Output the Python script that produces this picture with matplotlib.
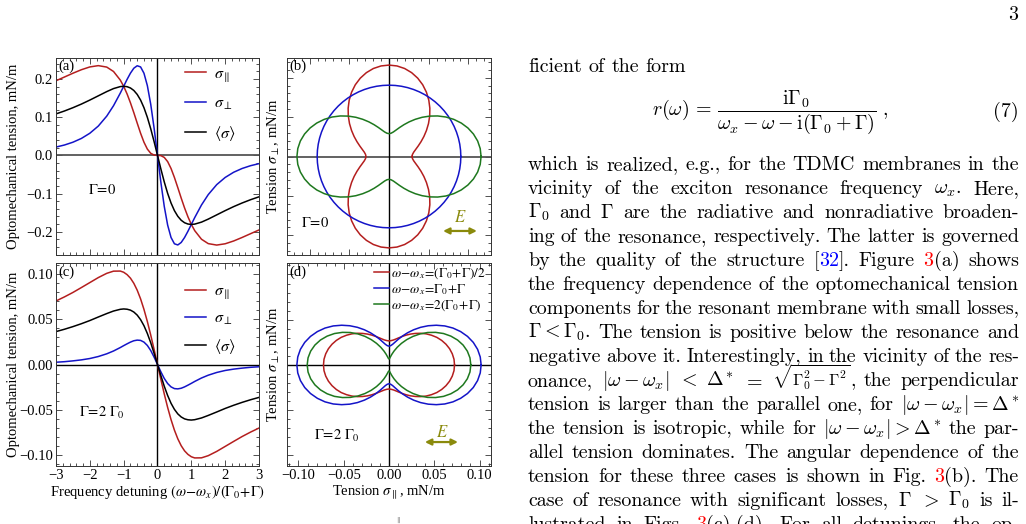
import re

import numpy as np
import matplotlib
matplotlib.use('Agg')
import matplotlib.pyplot as plt
from matplotlib.ticker import MultipleLocator

plt.rcParams['font.family'] = ['Liberation Serif', 'DejaVu Serif']
plt.rcParams['mathtext.fontset'] = 'stix'

# ---- data ----
detuning = [-3.0, -2.75, -2.5, -2.25, -2.0, -1.75, -1.5, -1.3, -1.1, -1.0, -0.9, -0.8, -0.7,
            -0.6, -0.5, -0.4, -0.3, -0.2, -0.1, 0.0, 0.1, 0.2, 0.3, 0.4, 0.5, 0.6, 0.7, 0.8,
            0.9, 1.0, 1.1, 1.3, 1.5, 1.75, 2.0, 2.25, 2.5, 2.75, 3.0]

# Gamma = 0
par_a = [0.1954, 0.2052, 0.2151, 0.2243, 0.2316, 0.2350, 0.2312, 0.2197, 0.1972, 0.1809, 0.1610,
         0.1377, 0.1118, 0.0845, 0.0579, 0.0344, 0.0164, 0.0054, 0.0007, 0.0,
         -0.0007, -0.0054, -0.0164, -0.0344, -0.0579, -0.0845, -0.1118, -0.1377, -0.1610,
         -0.1809, -0.1972, -0.2197, -0.2312, -0.2350, -0.2316, -0.2243, -0.2151, -0.2052, -0.1954]
perp_a = [0.0217, 0.0271, 0.0344, 0.0443, 0.0579, 0.0767, 0.1028, 0.1300, 0.1630, 0.1809, 0.1988,
          0.2152, 0.2282, 0.2347, 0.2316, 0.2151, 0.1827, 0.1338, 0.0709, 0.0,
          -0.0709, -0.1338, -0.1827, -0.2151, -0.2316, -0.2347, -0.2282, -0.2152, -0.1988,
          -0.1809, -0.1630, -0.1300, -0.1028, -0.0767, -0.0579, -0.0443, -0.0344, -0.0271, -0.0217]
mean_a = [0.1086, 0.1162, 0.1248, 0.1343, 0.1448, 0.1559, 0.1670, 0.1749, 0.1801, 0.1809, 0.1799,
          0.1765, 0.1700, 0.1596, 0.1448, 0.1248, 0.0996, 0.0696, 0.0358, 0.0,
          -0.0358, -0.0696, -0.0996, -0.1248, -0.1448, -0.1596, -0.1700, -0.1765, -0.1799,
          -0.1809, -0.1801, -0.1749, -0.1670, -0.1559, -0.1448, -0.1343, -0.1248, -0.1162, -0.1086]

# Gamma = 2 Gamma_0
par_c = [0.0701, 0.0746, 0.0795, 0.0849, 0.0904, 0.0959, 0.1006, 0.1030, 0.1031, 0.1018, 0.0992,
         0.0953, 0.0896, 0.0820, 0.0724, 0.0608, 0.0474, 0.0325, 0.0165, 0.0,
         -0.0165, -0.0325, -0.0474, -0.0608, -0.0724, -0.0820, -0.0896, -0.0953, -0.0992,
         -0.1018, -0.1031, -0.1030, -0.1006, -0.0959, -0.0904, -0.0849, -0.0795, -0.0746, -0.0701]
perp_c = [0.0025, 0.0031, 0.0040, 0.0051, 0.0066, 0.0088, 0.0118, 0.0149, 0.0187, 0.0208, 0.0228,
          0.0247, 0.0262, 0.0269, 0.0266, 0.0247, 0.0210, 0.0154, 0.0081, 0.0,
          -0.0081, -0.0154, -0.0210, -0.0247, -0.0266, -0.0269, -0.0262, -0.0247, -0.0228,
          -0.0208, -0.0187, -0.0149, -0.0118, -0.0088, -0.0066, -0.0051, -0.0040, -0.0031, -0.0025]
mean_c = [0.0363, 0.0389, 0.0418, 0.0450, 0.0485, 0.0524, 0.0562, 0.0590, 0.0609, 0.0613, 0.0610,
          0.0600, 0.0579, 0.0545, 0.0495, 0.0428, 0.0342, 0.0240, 0.0123, 0.0,
          -0.0123, -0.0240, -0.0342, -0.0428, -0.0495, -0.0545, -0.0579, -0.0600, -0.0610,
          -0.0613, -0.0609, -0.0590, -0.0562, -0.0524, -0.0485, -0.0450, -0.0418, -0.0389, -0.0363]

# angular dependence: radius (mN/m) vs polarisation angle, first quadrant
angle_deg = [0, 5, 10, 15, 20, 25, 30, 35, 40, 45, 50, 55, 60, 65, 70, 75, 80, 85, 90]
rad_b_half = [0.0580, 0.0593, 0.0632, 0.0697, 0.0784, 0.0891, 0.1015, 0.1152, 0.1299, 0.1450,
              0.1601, 0.1748, 0.1885, 0.2009, 0.2116, 0.2203, 0.2268, 0.2307, 0.2320]
rad_b_one = [0.181] * 19
rad_b_two = [0.2320, 0.2307, 0.2268, 0.2203, 0.2116, 0.2009, 0.1885, 0.1748, 0.1601, 0.1450,
             0.1299, 0.1152, 0.1015, 0.0891, 0.0784, 0.0697, 0.0632, 0.0593, 0.0580]
rad_d_half = [0.0724, 0.0721, 0.0710, 0.0693, 0.0670, 0.0642, 0.0610, 0.0573, 0.0535, 0.0495,
              0.0455, 0.0417, 0.0381, 0.0348, 0.0320, 0.0297, 0.0280, 0.0270, 0.0266]
rad_d_one = [0.1018, 0.1012, 0.0994, 0.0964, 0.0923, 0.0873, 0.0816, 0.0752, 0.0683, 0.0613,
             0.0543, 0.0475, 0.0411, 0.0353, 0.0303, 0.0262, 0.0232, 0.0214, 0.0208]
rad_d_two = [0.0904, 0.0898, 0.0879, 0.0848, 0.0806, 0.0754, 0.0695, 0.0628, 0.0558, 0.0485,
             0.0412, 0.0342, 0.0276, 0.0216, 0.0164, 0.0122, 0.0091, 0.0072, 0.0066]

legend_lines = [r'$\sigma_{\parallel}$', r'$\sigma_{\perp}$', r'$\langle\sigma\rangle$']
legend_polar = [r'$\omega\!-\!\omega_x\!=\!(\Gamma_0\!+\!\Gamma)/2$',
                r'$\omega\!-\!\omega_x\!=\!\Gamma_0\!+\!\Gamma$',
                r'$\omega\!-\!\omega_x\!=\!2(\Gamma_0\!+\!\Gamma)$']
yt_a = [-0.2, -0.1, 0.0, 0.1, 0.2]
yl_a = ['\u22120.2', '\u22120.1', '0.0', '0.1', '0.2']
yt_c = [-0.10, -0.05, 0.0, 0.05, 0.10]
yl_c = ['\u22120.10', '\u22120.05', '0.00', '0.05', '0.10']
xt_c = [-3, -2, -1, 0, 1, 2, 3]
xl_c = ['\u22123', '\u22122', '\u22121', '0', '1', '2', '3']
xt_d = [-0.10, -0.05, 0.0, 0.05, 0.10]
xl_d = ['\u22120.10', '\u22120.05', '0.00', '0.05', '0.10']

body = [
    'which is realized, e.g., for the TDMC membranes in the',
    r'vicinity of the exciton resonance frequency $\omega_x$.  Here,',
    r'$\Gamma_0$ and $\Gamma$ are the radiative and nonradiative broaden-',
    'ing of the resonance, respectively. The latter is governed',
    'by the quality of the structure [<b>32</b>].  Figure <r>3</r>(a) shows',
    'the frequency dependence of the optomechanical tension',
    'components for the resonant membrane with small losses,',
    r'$\Gamma<\Gamma_0$. The tension is positive below the resonance and',
    'negative above it. Interestingly, in the vicinity of the res-',
    r'onance, $|\omega-\omega_x|$ $<$ $\Delta^*$ $=$ <s>$\sqrt{\Gamma_0^2-\Gamma^2}$</s>, the perpendicular',
    r'tension is larger than the parallel one, for $|\omega-\omega_x|=\Delta^*$',
    r'the tension is isotropic, while for $|\omega-\omega_x|>\Delta^*$ the par-',
    'allel tension dominates. The angular dependence of the',
    'tension for these three cases is shown in Fig. <r>3</r>(b).  The',
    r'case of resonance with significant losses, $\Gamma$ $>$ $\Gamma_0$ is il-',
    'lustrated in Figs. <r>3</r>(c),(d).  For all detunings, the op-',
]

# ---- styling ----
W, H = 1026, 524
RED, BLUE, GREEN, OLIVE = '#b41e1e', '#1414c8', '#1e781e', '#8a8a0c'
FS = 10.5
TXT_FS = 14.4

fig = plt.figure(figsize=(W / 100, H / 100), dpi=100)


def px_axes(x0, y0, x1, y1):
    return fig.add_axes([x0 / W, 1 - y1 / H, (x1 - x0) / W, (y1 - y0) / H])


def frame(ax, xmaj, xmin, ymaj, ymin):
    ax.xaxis.set_major_locator(MultipleLocator(xmaj))
    ax.xaxis.set_minor_locator(MultipleLocator(xmin))
    ax.yaxis.set_major_locator(MultipleLocator(ymaj))
    ax.yaxis.set_minor_locator(MultipleLocator(ymin))
    ax.tick_params(which='both', direction='in', top=True, right=True, labelsize=FS,
                   width=0.6, color='#333333', pad=2)
    ax.tick_params(which='major', length=4)
    ax.tick_params(which='minor', length=2)
    for s in ax.spines.values():
        s.set_linewidth(0.7)
        s.set_color('#333333')


def closed(rads):
    # the pattern is mirror symmetric, so the quadrant is repeated round the circle
    ang, rr = [], []
    for q in range(4):
        seq = list(zip(angle_deg, rads))
        if q % 2 == 1:
            seq = [(90 - a, r) for a, r in seq[::-1]]
        for a, r in seq:
            ang.append(q * 90 + a)
            rr.append(r)
    th = np.radians(ang)
    return np.array(rr) * np.cos(th), np.array(rr) * np.sin(th)


def e_arrow(ax, x0, x1, y, ex, ey):
    ax.annotate('', xy=(x1, y), xytext=(x0, y), xycoords='axes fraction',
                arrowprops=dict(arrowstyle='<|-|>', color=OLIVE, lw=1.6, mutation_scale=9,
                                shrinkA=0, shrinkB=0))
    ax.text(ex, ey, r'$E$', color=OLIVE, transform=ax.transAxes, ha='center', va='center',
            fontsize=12)


# (a)
ax_a = px_axes(56, 58, 259, 255)
ax_a.axhline(0, color='#555555', lw=1.3)
ax_a.axvline(0, color='black', lw=1.0)
for vals, col, lab in zip([par_a, perp_a, mean_a], [RED, BLUE, 'black'], legend_lines):
    ax_a.plot(detuning, vals, color=col, lw=1.1, label=lab)
ax_a.set_xlim(-3, 3)
ax_a.set_ylim(-0.261, 0.255)
frame(ax_a, 1, 0.2, 0.1, 0.02)
ax_a.set_yticks(yt_a)
ax_a.set_yticklabels(yl_a)
ax_a.set_xticklabels([])
ax_a.set_ylabel('Optomechanical tension, mN/m', fontsize=FS)
ax_a.yaxis.set_label_coords(-0.175, 0.5)
ax_a.legend(loc='upper left', bbox_to_anchor=(0.635, 0.96), frameon=False, fontsize=11.5,
            handlelength=1.3, handletextpad=0.5, labelspacing=0.75, borderpad=0, borderaxespad=0)
ax_a.text(0.012, 0.99, '(a)', transform=ax_a.transAxes, ha='left', va='top', fontsize=FS)
ax_a.text(0.227, 0.33, r'$\Gamma\!=\!0$', transform=ax_a.transAxes, ha='center', va='center',
          fontsize=FS)

# (c)
ax_c = px_axes(56, 263, 259, 466)
ax_c.axhline(0, color='black', lw=1.0)
ax_c.axvline(0, color='black', lw=1.0)
for vals, col, lab in zip([par_c, perp_c, mean_c], [RED, BLUE, 'black'], legend_lines):
    ax_c.plot(detuning, vals, color=col, lw=1.1, label=lab)
ax_c.set_xlim(-3, 3)
ax_c.set_ylim(-0.112, 0.112)
frame(ax_c, 1, 0.2, 0.05, 0.01)
ax_c.set_yticks(yt_c)
ax_c.set_yticklabels(yl_c)
ax_c.set_xticks(xt_c)
ax_c.set_xticklabels(xl_c)
ax_c.set_ylabel('Optomechanical tension, mN/m', fontsize=FS)
ax_c.yaxis.set_label_coords(-0.175, 0.5)
ax_c.set_xlabel(r'Frequency detuning $(\omega\!-\!\omega_x)/(\Gamma_0\!+\!\Gamma)$', fontsize=FS,
                labelpad=1)
ax_c.legend(loc='upper left', bbox_to_anchor=(0.635, 0.9), frameon=False, fontsize=11.5,
            handlelength=1.3, handletextpad=0.5, labelspacing=0.6, borderpad=0, borderaxespad=0)
ax_c.text(0.012, 0.99, '(c)', transform=ax_c.transAxes, ha='left', va='top', fontsize=FS)
ax_c.text(0.225, 0.26, r'$\Gamma\!=\!2\ \Gamma_0$', transform=ax_c.transAxes, ha='center',
          va='center', fontsize=FS)

# (b)
ax_b = px_axes(287, 58, 491, 255)
ax_b.axhline(0, color='#555555', lw=1.3)
ax_b.axvline(0, color='black', lw=1.0)
for rads, col in zip([rad_b_half, rad_b_one, rad_b_two], [RED, BLUE, GREEN]):
    px, py = closed(rads)
    ax_b.plot(px, py, color=col, lw=1.1)
ax_b.set_xlim(-0.257, 0.257)
ax_b.set_ylim(-0.25, 0.25)
frame(ax_b, 0.1, 0.02, 0.1, 0.02)
ax_b.set_xticklabels([])
ax_b.set_yticklabels([])
ax_b.set_ylabel(r'Tension $\sigma_{\perp}$, mN/m', fontsize=FS)
ax_b.yaxis.set_label_coords(-0.025, 0.5)
ax_b.text(0.012, 0.99, '(b)', transform=ax_b.transAxes, ha='left', va='top', fontsize=FS)
ax_b.text(0.14, 0.16, r'$\Gamma\!=\!0$', transform=ax_b.transAxes, ha='center', va='center',
          fontsize=FS)
e_arrow(ax_b, 0.765, 0.931, 0.122, 0.85, 0.19)

# (d)
ax_d = px_axes(287, 263, 491, 466)
ax_d.axhline(0, color='black', lw=1.0)
ax_d.axvline(0, color='black', lw=1.0)
for rads, col, lab in zip([rad_d_half, rad_d_one, rad_d_two], [RED, BLUE, GREEN], legend_polar):
    px, py = closed(rads)
    ax_d.plot(px, py, color=col, lw=1.1, label=lab)
ax_d.set_xlim(-0.1127, 0.1127)
ax_d.set_ylim(-0.1117, 0.1127)
frame(ax_d, 0.05, 0.01, 0.05, 0.01)
ax_d.set_xticks(xt_d)
ax_d.set_xticklabels(xl_d)
ax_d.set_yticklabels([])
ax_d.set_ylabel(r'Tension $\sigma_{\perp}$, mN/m', fontsize=FS)
ax_d.yaxis.set_label_coords(-0.025, 0.5)
ax_d.set_xlabel(r'Tension $\sigma_{\parallel}$, mN/m', fontsize=FS, labelpad=1)
ax_d.legend(loc='upper right', bbox_to_anchor=(0.975, 0.985), frameon=False, fontsize=9.6,
            handlelength=1.1, handletextpad=0.15, labelspacing=0.1, borderpad=0, borderaxespad=0)
ax_d.text(0.012, 0.99, '(d)', transform=ax_d.transAxes, ha='left', va='top', fontsize=FS)
ax_d.text(0.245, 0.15, r'$\Gamma\!=\!2\ \Gamma_0$', transform=ax_d.transAxes, ha='center',
          va='center', fontsize=FS)
e_arrow(ax_d, 0.676, 0.838, 0.118, 0.76, 0.165)

fig.text(398 / W, 1 - 520 / H, r'$\parallel$', fontsize=5, color='#555555', ha='center',
         va='center')

# ---- text column ----
rend = fig.canvas.get_renderer()
TX0, TX1 = 528, 1019
COLS = {'r': '#ff0000', 'b': '#0000ff'}


def put_line(line, base, justify=True):
    words = []
    for tok in line.split(' '):
        if not tok:
            continue
        parts = []
        for seg in re.split(r'(<[rbs]>.*?</[rbs]>)', tok):
            if not seg:
                continue
            col, size = 'black', TXT_FS
            m = re.match(r'<([rbs])>(.*?)</[rbs]>', seg)
            if m:
                if m.group(1) == 's':
                    size = TXT_FS * 0.82
                else:
                    col = COLS[m.group(1)]
                seg = m.group(2)
            t = fig.text(0, 1 - base / H, seg, fontsize=size, family='cmr10',
                         math_fontfamily='cm', color=col, ha='left', va='baseline')
            parts.append((t, t.get_window_extent(rend).width))
        words.append(parts)
    total = sum(w for p in words for _, w in p)
    gap = (TX1 - TX0 - total) / (len(words) - 1) if justify else 6.7
    x = TX0
    for p in words:
        for t, w in p:
            t.set_x(x / W)
            x += w
        x += gap


put_line('ficient of the form', 72, justify=False)
fig.text(770 / W, 1 - 112 / H,
         r'$r(\omega)\,=\,\dfrac{\mathrm{i}\Gamma_0}{\omega_x-\omega-\mathrm{i}(\Gamma_0+\Gamma)}\ ,$',
         fontsize=TXT_FS, math_fontfamily='cm', ha='center', va='center')
fig.text(TX1 / W, 1 - 112 / H, '(7)', fontsize=TXT_FS, family='cmr10', ha='right', va='center')
for i, line in enumerate(body):
    put_line(line, 170 + 24 * i)
fig.text(1013 / W, 1 - 15 / H, '3', fontsize=TXT_FS, family='cmr10', ha='center', va='center')

fig.savefig('out.png', dpi=100)
